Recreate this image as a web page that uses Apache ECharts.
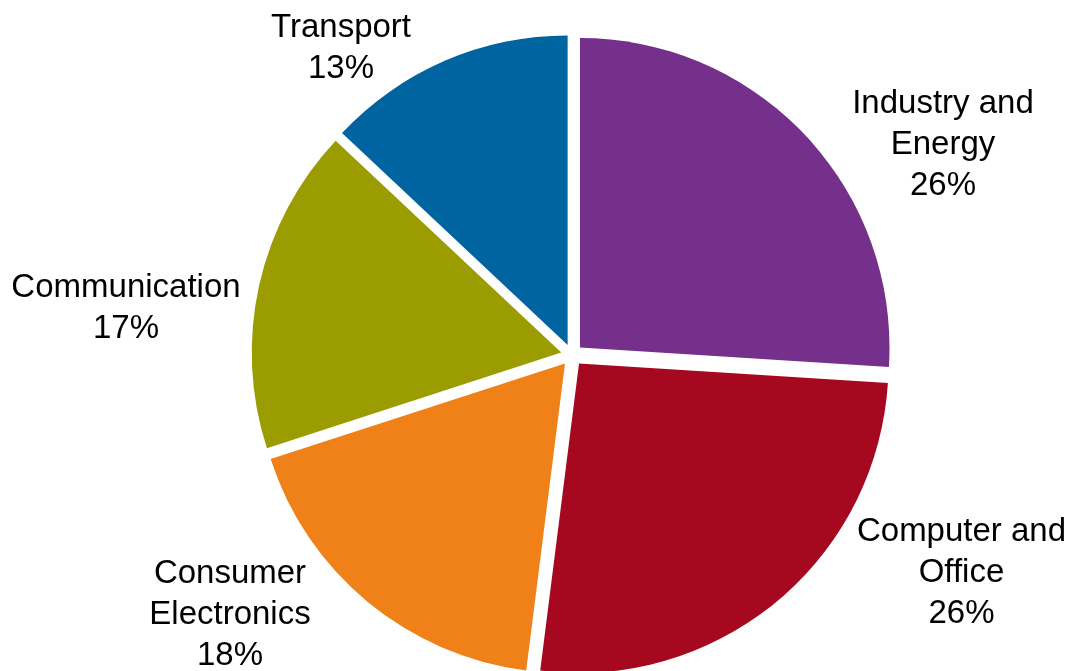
<!DOCTYPE html>
<html>
<head>
<meta charset="utf-8">
<script src="https://cdn.jsdelivr.net/npm/echarts@6/dist/echarts.min.js"></script>
<style>html,body{margin:0;padding:0;background:#fff;}#c{width:1069px;height:671px;}</style>
</head>
<body>
<div id="c"></div>
<script>
const categories = ['Industry and Energy', 'Computer and Office', 'Consumer Electronics', 'Communication', 'Transport'];
const labelLines = ['Industry and\nEnergy', 'Computer and\nOffice', 'Consumer\nElectronics', 'Communication', 'Transport'];
const values = [26, 26, 18, 17, 13];
const colors = ['#74308A', '#A6091F', '#EF8118', '#9A9C00', '#0064A0'];
// label block centres (layout only)
const labelPos = [[943, 145], [961.5, 573], [230, 615], [126, 308], [341, 48]];

const chart = echarts.init(document.getElementById('c'), null, {renderer: 'canvas'});
chart.setOption({
  animation: false,
  backgroundColor: '#ffffff',
  series: [{
    type: 'pie',
    center: [572, 355],
    radius: 309.5,
    startAngle: 90,
    clockwise: true,
    selectedMode: 'multiple',
    selectedOffset: 11,
    silent: true,
    emphasis: {disabled: true, scale: false},
    itemStyle: {borderWidth: 0},
    label: {show: false},
    labelLine: {show: false},
    data: categories.map((n, i) => ({
      name: n, value: values[i], selected: true,
      itemStyle: {color: colors[i]}
    }))
  }],
  graphic: labelLines.map((t, i) => ({
    type: 'text',
    x: labelPos[i][0],
    y: labelPos[i][1],
    silent: true,
    style: {
      text: t + '\n' + values[i] + '%',
      fill: '#000000',
      fontFamily: '"Liberation Sans", Arial, sans-serif',
      fontSize: 33,
      lineHeight: 41,
      align: 'center',
      verticalAlign: 'middle'
    }
  }))
});
</script>
</body>
</html>
